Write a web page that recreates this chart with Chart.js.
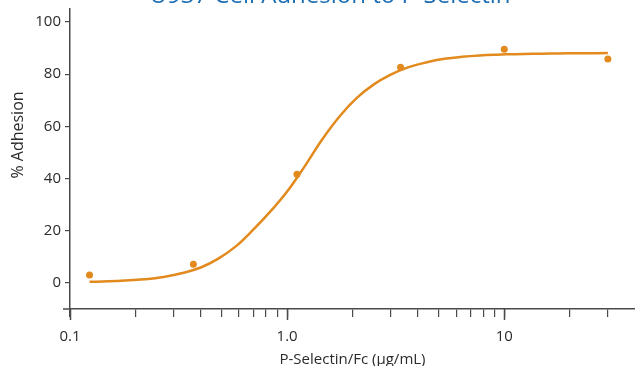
<!DOCTYPE html>
<html>
<head>
<meta charset="utf-8">
<script src="https://cdn.jsdelivr.net/npm/chart.js@4/dist/chart.umd.min.js"></script>
<style>
  html, body { margin: 0; padding: 0; background: #fff; }
  #wrap { width: 635px; height: 366px; }
</style>
</head>
<body>
<div id="wrap"><canvas id="c" width="635" height="366"></canvas></div>
<script>
// ---- data ----
const chartTitle = 'U937 Cell Adhesion to P-Selectin';
const xTitle = 'P-Selectin/Fc (μg/mL)';
const yTitle = '% Adhesion';

// measured points
const concentrations = [0.123, 0.37, 1.11, 3.33, 10, 30];
const adhesion       = [3.0,   7.2,  41.7, 82.7, 89.6, 85.8];

// fitted curve
const curveX = [0.123, 0.15, 0.18, 0.22, 0.27, 0.33, 0.40, 0.48, 0.58, 0.70, 0.85, 1.0,  1.2,  1.45, 1.75, 2.1,  2.5,  3.0,  3.6,  4.4,  5.3,  6.4,  7.7,  9.3,  11.2, 13.5, 16.3, 19.6, 23.6, 30];
const curveY = [0.4,   0.6,  0.9,  1.4,  2.3,  3.8,  5.9,  9.2,  14.0, 20.5, 28.0, 35.0, 44.5, 55.0, 64.0, 71.0, 76.0, 79.8, 82.6, 84.6, 85.9, 86.7, 87.2, 87.5, 87.7, 87.8, 87.9, 88.0, 88.0, 88.1];

// tick labels
const xMajorTicks  = [0.1, 1, 10];
const xMajorLabels = ['0.1', '1.0', '10'];
const yTicks = [0, 20, 40, 60, 80, 100];

const ORANGE = '#E28A1E';
const AXIS = '#4a4a4a';
const TEXT = '#2b2b2b';
const FONT = "'Open Sans', 'Noto Sans', sans-serif";

// minor + major tick positions on the log axis (0.1 .. 30)
const xAllTicks = [];
[0.1, 1, 10].forEach(d => {
  for (let m = 1; m <= 9; m++) {
    const v = +(m * d).toPrecision(3);
    if (v <= 30) xAllTicks.push(v);
  }
});

const curveData = curveX.map((x, i) => ({x, y: curveY[i]}));
const pointData = concentrations.map((x, i) => ({x, y: adhesion[i]}));

const extrasPlugin = {
  id: 'extras',
  afterDraw(chart) {
    const ctx = chart.ctx;
    const xs = chart.scales.x;
    const area = chart.chartArea;
    ctx.save();
    // title (cut at top as in the reference)
    ctx.fillStyle = '#1E6EB4';
    ctx.font = "24px " + FONT;
    ctx.textAlign = 'center';
    ctx.textBaseline = 'alphabetic';
    ctx.fillText(chartTitle, 330, 3);
    // y title
    ctx.fillStyle = TEXT;
    ctx.font = "16px " + FONT;
    ctx.translate(18, 135);
    ctx.rotate(-Math.PI / 2);
    ctx.textBaseline = 'middle';
    ctx.fillText(yTitle, 0, 0);
    ctx.restore();
    // axis line extension and longer major ticks
    ctx.save();
    ctx.strokeStyle = AXIS;
    ctx.lineWidth = 1.5;
    ctx.beginPath();
    ctx.moveTo(area.left - 7, area.bottom);
    ctx.lineTo(area.left, area.bottom);
    xMajorTicks.forEach(v => {
      const px = Math.round(xs.getPixelForValue(v)) + 0.5;
      ctx.moveTo(px, area.bottom);
      ctx.lineTo(px, area.bottom + 11);
    });
    ctx.stroke();
    ctx.restore();
  }
};

new Chart(document.getElementById('c'), {
  data: {
    datasets: [
      {
        type: 'line',
        data: curveData,
        borderColor: ORANGE,
        borderWidth: 2.5,
        pointRadius: 0,
        tension: 0.4,
        fill: false,
        order: 2
      },
      {
        type: 'scatter',
        data: pointData,
        backgroundColor: ORANGE,
        borderColor: ORANGE,
        pointRadius: 3.5,
        borderWidth: 0,
        order: 1
      }
    ]
  },
  options: {
    responsive: false,
    animation: false,
    devicePixelRatio: 1,
    layout: { autoPadding: false, padding: { top: 9, right: 0, left: 0, bottom: 0 } },
    plugins: { legend: { display: false }, tooltip: { enabled: false } },
    scales: {
      x: {
        type: 'logarithmic',
        position: 'bottom',
        min: 0.1,
        max: 40,
        afterBuildTicks: (s) => { s.ticks = xAllTicks.map(v => ({ value: v, major: xMajorTicks.includes(v) })); },
        afterFit: (s) => { s.height = 57; s.paddingLeft = 0; s.paddingRight = 0; },
        ticks: {
          autoSkip: false,
          maxRotation: 0,
          color: TEXT,
          font: { family: FONT, size: 15 },
          padding: 11,
          callback: (v) => {
            const i = xMajorTicks.indexOf(+v);
            return i >= 0 ? xMajorLabels[i] : '';
          }
        },
        grid: { drawOnChartArea: false, drawTicks: true, tickLength: 8, color: AXIS, lineWidth: 1.2 },
        border: { display: true, color: AXIS, width: 1.5 },
        title: { display: true, text: xTitle, color: TEXT, font: { family: FONT, size: 15 }, padding: { top: 0, bottom: -3 } }
      },
      y: {
        type: 'linear',
        min: -10,
        max: 105,
        afterBuildTicks: (s) => { s.ticks = yTicks.map(v => ({ value: v })); },
        afterFit: (s) => { s.width = 70; s.paddingTop = 0; s.paddingBottom = 0; },
        ticks: { color: TEXT, font: { family: FONT, size: 15 }, padding: 4 },
        grid: { drawOnChartArea: false, drawTicks: true, tickLength: 5, color: AXIS, lineWidth: 1.2 },
        border: { display: true, color: AXIS, width: 1.5 }
      }
    }
  },
  plugins: [extrasPlugin]
});
</script>
</body>
</html>
